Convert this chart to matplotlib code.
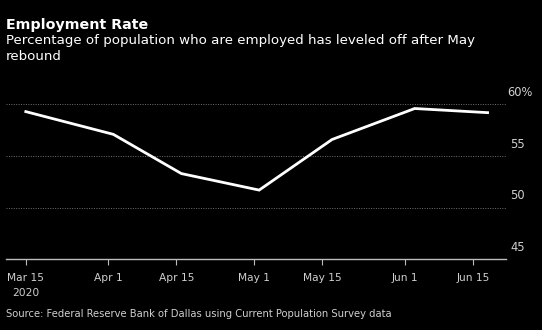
import matplotlib
matplotlib.use('Agg')
import matplotlib.pyplot as plt
import matplotlib.transforms as mtransforms
import datetime as dt

# data
dates = ['2020-03-15', '2020-04-02', '2020-04-16', '2020-05-02',
         '2020-05-17', '2020-06-03', '2020-06-18']
rate = [59.3, 57.1, 53.3, 51.7, 56.6, 59.6, 59.2]

tick_dates = ['2020-03-15', '2020-04-01', '2020-04-15', '2020-05-01',
              '2020-05-15', '2020-06-01', '2020-06-15']
tick_labels = ['Mar 15\n2020', 'Apr 1', 'Apr 15', 'May 1',
               'May 15', 'Jun 1', 'Jun 15']
y_ticks = [45, 50, 55, 60]
y_labels = ['45', '50', '55', '60%']

title = 'Employment Rate'
subtitle = 'Percentage of population who are employed has leveled off after May\nrebound'
source = 'Source: Federal Reserve Bank of Dallas using Current Population Survey data'

to_d = lambda s: dt.datetime.strptime(s, '%Y-%m-%d')
x = [to_d(d) for d in dates]
xt = [to_d(d) for d in tick_dates]

bg = 'black'
grey = '#cfcfcf'

fig = plt.figure(figsize=(5.42, 3.30), dpi=100, facecolor=bg)
ax = fig.add_axes([0.011, 0.2143, 0.923, 0.5163], facecolor=bg)

ax.plot(x, rate, color='white', lw=2.0, solid_joinstyle='miter', zorder=3)

ax.set_xlim(to_d('2020-03-10') + dt.timedelta(hours=22), to_d('2020-06-21') + dt.timedelta(hours=20))
ax.set_ylim(45, 61.5)

for yv in y_ticks[1:]:
    ax.axhline(yv, color='#707070', lw=0.7, linestyle=(0, (1, 1.5)), zorder=1)

for s in ['top', 'right', 'left']:
    ax.spines[s].set_visible(False)
ax.spines['bottom'].set_color('#bdbdbd')
ax.spines['bottom'].set_linewidth(1.0)

ax.set_xticks(xt)
ax.set_xticklabels(tick_labels, color=grey, fontsize=7.7, linespacing=1.6)
ax.tick_params(axis='x', direction='out', length=4, width=0.8, color='#bdbdbd', pad=6)
ax.set_yticks([])

# right-hand value labels sit just above their gridlines
trans = mtransforms.blended_transform_factory(ax.transAxes, ax.transData)
for yv, lab in zip(y_ticks, y_labels):
    xr = 1.0 + (26.0 if lab.endswith('%') else 19.0) / 500
    ax.text(xr, yv + 1.15, lab, transform=trans,
            ha='right', va='center', color=grey, fontsize=8.3)

fig.text(0.011, 1 - 25 / 330, title, color='white', fontsize=10.3,
         fontweight='bold', ha='left', va='center')
fig.text(0.011, 1 - 34 / 330, subtitle, color='white', fontsize=9.6,
         ha='left', va='top', linespacing=1.3)
fig.text(0.011, 1 - 314 / 330, source, color=grey, fontsize=7.2,
         ha='left', va='center')

fig.savefig('out.png', dpi=100, facecolor=bg)
